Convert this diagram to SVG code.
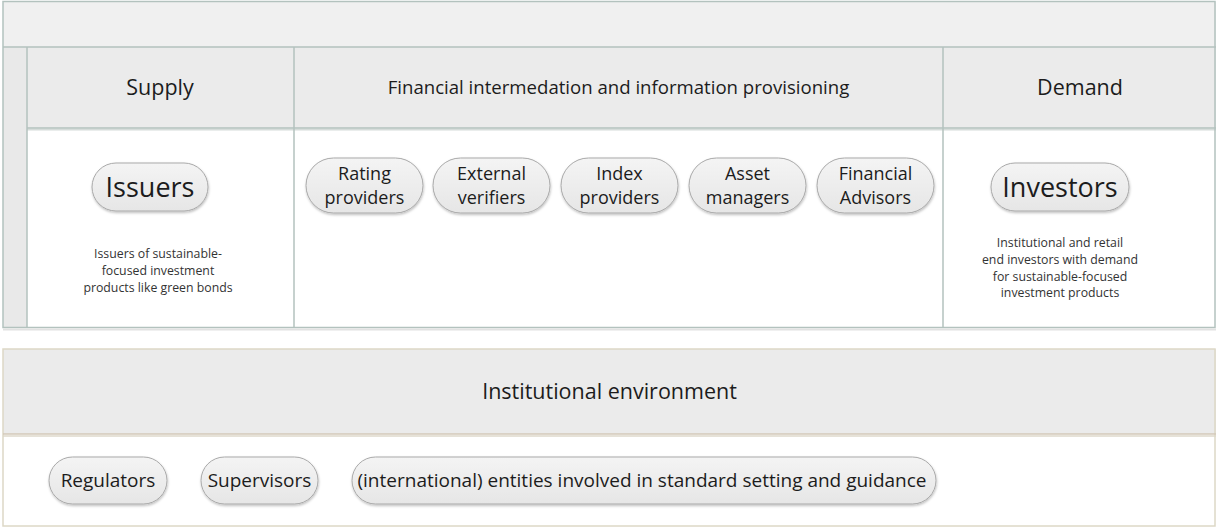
<svg xmlns="http://www.w3.org/2000/svg" width="1216" height="527" viewBox="0 0 1216 527">
  <defs>
    <filter id="pillShadow" x="-10%" y="-20%" width="120%" height="150%">
      <feDropShadow dx="0.5" dy="1.5" stdDeviation="1.2" flood-color="#000" flood-opacity="0.25"/>
    </filter>
    <linearGradient id="pillFill" x1="0" y1="0" x2="0" y2="1">
      <stop offset="0" stop-color="#f4f4f4"/>
      <stop offset="1" stop-color="#e6e6e6"/>
    </linearGradient>
  </defs>
  <style>
    text { font-family: "Open Sans", "Noto Sans", "Liberation Sans", sans-serif; fill: #1c1c1c; text-anchor: middle; }
    .head { font-size: 21.5px; }
    .head-s { font-size: 18.6px; }
    .big { font-size: 27px; }
    .pill-t { font-size: 19px; }
    .pill-2 { font-size: 18px; }
    .desc { font-size: 12.3px; fill: #333; }
    .pill { fill: url(#pillFill); stroke: #a9a9a9; stroke-width: 1; filter: url(#pillShadow); }
    .frame { stroke: #b3c2be; stroke-width: 1.5; }
    .frame2 { stroke: #ddd8c6; stroke-width: 1.5; }
  </style>
  <rect width="1216" height="527" fill="#ffffff"/>

  <!-- market panel -->
  <g id="market-panel">
    <rect x="3" y="2" width="1213" height="45" fill="#f0f0f0"/>
    <rect x="3" y="47" width="24" height="280" fill="#e9e9e9"/>
    <rect x="27" y="47" width="1189" height="81" fill="#ebebeb"/>
    <rect x="27" y="128" width="1189" height="199" fill="#ffffff"/>
    <line x1="27" y1="129.5" x2="1216" y2="129.5" stroke="#d6dcda" stroke-width="2"/>
    <g class="frame" fill="none">
      <rect x="3" y="1.5" width="1212" height="326"/>
      <line x1="3" y1="47" x2="1216" y2="47"/>
      <line x1="27" y1="47" x2="27" y2="327.5"/>
      <line x1="27" y1="128" x2="1216" y2="128"/>
      <line x1="294" y1="47" x2="294" y2="327.5"/>
      <line x1="943" y1="47" x2="943" y2="327.5"/>
    </g>
    <line x1="3" y1="329.5" x2="1216" y2="329.5" stroke="#e2e2e2" stroke-width="2"/>
  </g>

  <g id="supply">
    <text class="head" x="160" y="95">Supply</text>
  </g>
  <g id="intermediation">
    <text class="head-s" x="618.5" y="94">Financial intermedation and information provisioning</text>
  </g>
  <g id="demand">
    <text class="head" x="1080" y="95">Demand</text>
  </g>

  <g id="issuers">
    <rect class="pill" x="92" y="163" width="116" height="48" rx="24"/>
    <text class="big" x="150" y="197">Issuers</text>
    <text class="desc" x="158" y="258"><tspan x="158">Issuers of sustainable-</tspan><tspan x="158" dy="16.8">focused investment</tspan><tspan x="158" dy="16.8">products like green bonds</tspan></text>
  </g>

  <!-- two-line pills: line pitch kept at one full line box -->
  <g id="rating-providers">
    <rect class="pill" x="306" y="158" width="117" height="55" rx="27.5"/>
    <text class="pill-2" y="179.5"><tspan x="364.5">Rating</tspan><tspan x="364.5" dy="24.6">providers</tspan></text>
  </g>
  <g id="external-verifiers">
    <rect class="pill" x="433" y="158" width="117" height="55" rx="27.5"/>
    <text class="pill-2" y="179.5"><tspan x="491.5">External</tspan><tspan x="491.5" dy="24.6">verifiers</tspan></text>
  </g>
  <g id="index-providers">
    <rect class="pill" x="561" y="158" width="117" height="55" rx="27.5"/>
    <text class="pill-2" y="179.5"><tspan x="619.5">Index</tspan><tspan x="619.5" dy="24.6">providers</tspan></text>
  </g>
  <g id="asset-managers">
    <rect class="pill" x="689" y="158" width="117" height="55" rx="27.5"/>
    <text class="pill-2" y="179.5"><tspan x="747.5">Asset</tspan><tspan x="747.5" dy="24.6">managers</tspan></text>
  </g>
  <g id="financial-advisors">
    <rect class="pill" x="817" y="158" width="117" height="55" rx="27.5"/>
    <text class="pill-2" y="179.5"><tspan x="875.5">Financial</tspan><tspan x="875.5" dy="24.6">Advisors</tspan></text>
  </g>

  <g id="investors">
    <rect class="pill" x="991" y="163" width="138" height="48" rx="24"/>
    <text class="big" x="1060" y="197">Investors</text>
    <text class="desc" y="247"><tspan x="1060">Institutional and retail</tspan><tspan x="1060" dy="16.8">end investors with demand</tspan><tspan x="1060" dy="16.8">for sustainable-focused</tspan><tspan x="1060" dy="16.8">investment products</tspan></text>
  </g>

  <!-- institutional environment panel -->
  <g id="institutional-environment">
    <rect x="3" y="349" width="1213" height="85" fill="#ebebeb"/>
    <rect x="3" y="434" width="1213" height="92" fill="#ffffff"/>
    <line x1="3" y1="436" x2="1216" y2="436" stroke="#e6e2d8" stroke-width="2"/>
    <g class="frame2" fill="none">
      <rect x="3" y="349" width="1212" height="177"/>
      <line x1="3" y1="434" x2="1216" y2="434" stroke="#d3c9b8"/>
    </g>
    <text class="head" x="609.5" y="399">Institutional environment</text>
  </g>

  <g id="regulators">
    <rect class="pill" x="49" y="457" width="118" height="47" rx="23.5"/>
    <text class="pill-t" x="108" y="487">Regulators</text>
  </g>
  <g id="supervisors">
    <rect class="pill" x="201" y="457" width="117" height="47" rx="23.5"/>
    <text class="pill-t" x="259.5" y="487">Supervisors</text>
  </g>
  <g id="standard-setters">
    <rect class="pill" x="352" y="457" width="584" height="47" rx="23.5"/>
    <text class="pill-t" x="642" y="487">(international) entities involved in standard setting and guidance</text>
  </g>
</svg>
